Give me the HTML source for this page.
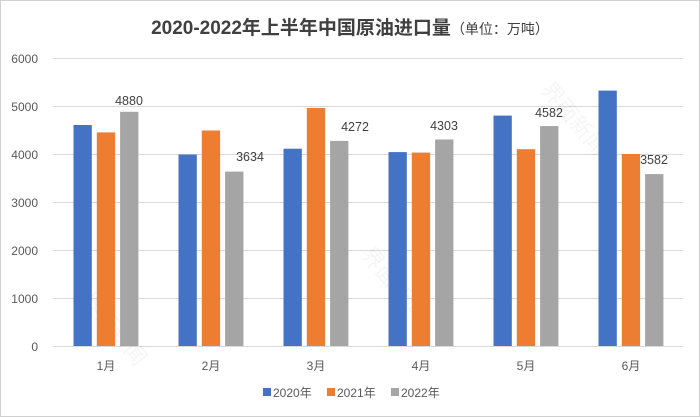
<!DOCTYPE html>
<html><head><meta charset="utf-8"><style>
body{margin:0;background:#fff}
svg{display:block}
text{font-family:"Liberation Sans","Noto Sans CJK SC",sans-serif}
</style></head><body>
<svg width="700" height="417" viewBox="0 0 700 417">
<rect x="0.5" y="0.5" width="699" height="416" fill="#fff" stroke="#d0d0d0"/>
<text x="350" y="34" text-anchor="middle" font-size="19" font-weight="bold" fill="#404040">2020-2022年上半年中国原油进口量<tspan font-size="14" font-weight="normal">（单位：万吨）</tspan></text>
<g stroke="#d9d9d9" stroke-width="1">
<line x1="53" x2="683" y1="58.5" y2="58.5"/>
<line x1="53" x2="683" y1="106.5" y2="106.5"/>
<line x1="53" x2="683" y1="154.5" y2="154.5"/>
<line x1="53" x2="683" y1="202.5" y2="202.5"/>
<line x1="53" x2="683" y1="250.5" y2="250.5"/>
<line x1="53" x2="683" y1="298.5" y2="298.5"/>
<line x1="53" x2="683" y1="346.5" y2="346.5"/>
</g>
<g font-size="12" fill="#595959" text-anchor="end">
<text x="38" y="63">6000</text><text x="38" y="111">5000</text><text x="38" y="159">4000</text>
<text x="38" y="207">3000</text><text x="38" y="255">2000</text><text x="38" y="303">1000</text><text x="38" y="351">0</text>
</g>
<g font-size="22" fill="#000" fill-opacity="0.04">
<text transform="translate(540,90) rotate(50)">界面新闻</text>
<text transform="translate(80,300) rotate(50)">界面新闻</text>
<text transform="translate(360,255) rotate(50)">界面新闻</text>
</g>
<g fill="#4472c4">
<rect x="73.5" y="125" width="18.3" height="221"/>
<rect x="178.5" y="154.5" width="18.3" height="191.5"/>
<rect x="283.5" y="148.7" width="18.3" height="197.3"/>
<rect x="388.5" y="152.1" width="18.3" height="193.9"/>
<rect x="493.5" y="115.6" width="18.3" height="230.4"/>
<rect x="598.5" y="90.6" width="18.3" height="255.4"/>
</g>
<g fill="#ed7d31">
<rect x="96.8" y="132.4" width="18.3" height="213.6"/>
<rect x="201.8" y="130.5" width="18.3" height="215.5"/>
<rect x="306.8" y="107.9" width="18.3" height="238.1"/>
<rect x="411.8" y="152.6" width="18.3" height="193.4"/>
<rect x="516.8" y="149.2" width="18.3" height="196.8"/>
<rect x="621.8" y="154" width="18.3" height="192"/>
</g>
<g fill="#a5a5a5">
<rect x="120.1" y="111.8" width="18.3" height="234.2"/>
<rect x="225.1" y="171.6" width="18.3" height="174.4"/>
<rect x="330.1" y="140.9" width="18.3" height="205.1"/>
<rect x="435.1" y="139.5" width="18.3" height="206.5"/>
<rect x="540.1" y="126.1" width="18.3" height="219.9"/>
<rect x="645.1" y="174.1" width="18.3" height="171.9"/>
</g>
<g font-size="12" fill="#595959" text-anchor="middle">
<text x="106" y="370">1月</text><text x="211" y="370">2月</text><text x="316" y="370">3月</text>
<text x="421" y="370">4月</text><text x="526" y="370">5月</text><text x="631" y="370">6月</text>
</g>
<g font-size="12.5" fill="#404040">
<text x="129" y="105" text-anchor="middle">4880</text>
<text x="250" y="161" text-anchor="middle">3634</text>
<text x="355" y="131" text-anchor="middle">4272</text>
<text x="444" y="130" text-anchor="middle">4303</text>
<text x="549" y="117" text-anchor="middle">4582</text>
<text x="654" y="164" text-anchor="middle">3582</text>
</g>
<g font-size="12" fill="#595959">
<rect x="263" y="388" width="8" height="8" fill="#4472c4"/><text x="273" y="397">2020年</text>
<rect x="327" y="388" width="8" height="8" fill="#ed7d31"/><text x="337" y="397">2021年</text>
<rect x="391" y="388" width="8" height="8" fill="#a5a5a5"/><text x="401" y="397">2022年</text>
</g>
</svg>
</body></html>
